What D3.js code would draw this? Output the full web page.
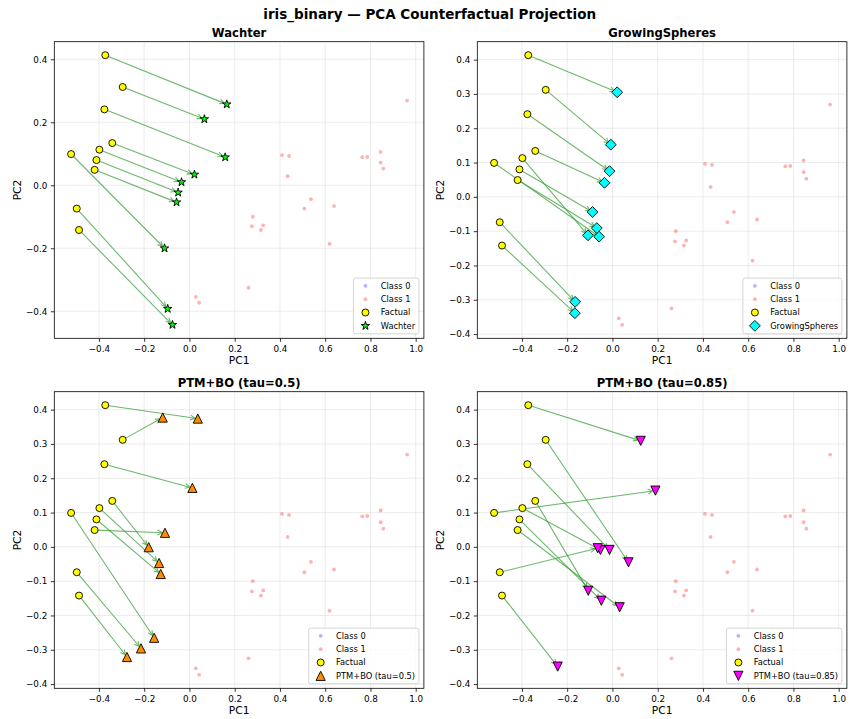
<!DOCTYPE html>
<html>
<head>
<meta charset="utf-8">
<script src="https://cdn.jsdelivr.net/npm/d3@7"></script>
<style>
  body { margin: 0; background: #fff; }
  svg { display: block; }
  text { font-family: "DejaVu Sans", sans-serif; fill: #000; }
</style>
</head>
<body>
<div id="chart"></div>
<script>
// factual points (class 0 instances), projected on PC1/PC2
var factualX = [-0.372, -0.295, -0.376, -0.341, -0.398, -0.411, -0.419, -0.523, -0.498, -0.488];
var factualY = [ 0.413,  0.312,  0.241,  0.134,  0.113,  0.080,  0.049,  0.099, -0.074, -0.142];

// class 0 background points sit under the factuals
var class0X = factualX;
var class0Y = factualY;

var class1X = [0.962, 0.409, 0.440, 0.434, 0.764, 0.786, 0.845, 0.845, 0.857, 0.537,
               0.508, 0.639, 0.280, 0.276, 0.326, 0.316, 0.619, 0.261, 0.028, 0.043];
var class1Y = [0.269, 0.096, 0.093, 0.029, 0.089, 0.090, 0.106, 0.072, 0.053, -0.044,
               -0.074, -0.066, -0.100, -0.130, -0.127, -0.142, -0.186, -0.325, -0.354, -0.373];

// counterfactuals, same order as the factuals
var wachterX = [0.165, 0.066, 0.158, 0.022, -0.035, -0.050, -0.057, -0.110, -0.096, -0.075];
var wachterY = [0.257, 0.210, 0.089, 0.034,  0.010, -0.023, -0.054, -0.200, -0.392, -0.443];

var gsX = [0.021, -0.007, -0.013, -0.035, -0.108, -0.088, -0.069, -0.059, -0.165, -0.166];
var gsY = [0.305,  0.152,  0.075,  0.041, -0.112, -0.044, -0.091, -0.116, -0.306, -0.339];

var ptm05X = [0.037, -0.118, 0.013, -0.180, -0.134, -0.127, -0.108, -0.156, -0.214, -0.276];
var ptm05Y = [0.374,  0.377, 0.172, -0.001, -0.047, -0.079,  0.041, -0.265, -0.296, -0.321];

var ptm085X = [0.125,  0.071, -0.013, -0.107, -0.053, -0.049,  0.032, 0.190, -0.065, -0.242];
var ptm085Y = [0.309, -0.045, -0.009, -0.128, -0.009, -0.157, -0.176, 0.164, -0.004, -0.349];

var xTicks = [-0.4, -0.2, 0.0, 0.2, 0.4, 0.6, 0.8, 1.0];
var yTicksCoarse = [-0.4, -0.2, 0.0, 0.2, 0.4];
var yTicksFine = [-0.4, -0.3, -0.2, -0.1, 0.0, 0.1, 0.2, 0.3, 0.4];

var panelTitles = ["Wachter", "GrowingSpheres", "PTM+BO (tau=0.5)", "PTM+BO (tau=0.85)"];

var W = 849, H = 719;
var axW = 369.6, axH = 296.6;

var panels = [
  {title: panelTitles[0], cfX: wachterX, cfY: wachterY, shape: "star", color: "#00ff00", yTicks: yTicksCoarse, left: 54.3, top: 41.7},
  {title: panelTitles[1], cfX: gsX, cfY: gsY, shape: "diamond", color: "#00ffff", yTicks: yTicksFine, left: 477.3, top: 41.7},
  {title: panelTitles[2], cfX: ptm05X, cfY: ptm05Y, shape: "triUp", color: "#ff8c00", yTicks: yTicksFine, left: 54.3, top: 391.7},
  {title: panelTitles[3], cfX: ptm085X, cfY: ptm085Y, shape: "triDown", color: "#ff00ff", yTicks: yTicksFine, left: 477.3, top: 391.7}
];

function shapePath(shape) {
  if (shape == "star") {
    var R = 4.4, r = R * 0.382, pts = [];
    for (var k = 0; k < 10; k++) {
      var a = -Math.PI / 2 + k * Math.PI / 5;
      var rr = (k % 2 == 0) ? R : r;
      pts.push([rr * Math.cos(a), rr * Math.sin(a)]);
    }
    return "M" + pts.map(function(p) { return p[0].toFixed(2) + "," + p[1].toFixed(2); }).join("L") + "Z";
  }
  if (shape == "diamond") { var h = 5.4; return "M0," + (-h) + "L" + h + ",0L0," + h + "L" + (-h) + ",0Z"; }
  if (shape == "triUp") { var t = 4.6; return "M0," + (-t) + "L" + t + "," + t + "L" + (-t) + "," + t + "Z"; }
  if (shape == "triDown") { var t2 = 4.6; return "M0," + t2 + "L" + t2 + "," + (-t2) + "L" + (-t2) + "," + (-t2) + "Z"; }
}

function padded(vals) {
  var lo = d3.min(vals), hi = d3.max(vals), m = (hi - lo) * 0.05;
  return [lo - m, hi + m];
}

var svg = d3.select("#chart").append("svg").attr("width", W).attr("height", H);

svg.append("text")
  .attr("x", 429.7).attr("y", 19.2)
  .attr("text-anchor", "middle")
  .style("font-size", "13.5px").style("font-weight", "bold")
  .text("iris_binary \u2014 PCA Counterfactual Projection");

panels.forEach(function(p) {
  var allX = class0X.concat(class1X, factualX, p.cfX);
  var allY = class0Y.concat(class1Y, factualY, p.cfY);
  var x = d3.scaleLinear().domain(padded(allX)).range([0, axW]);
  var y = d3.scaleLinear().domain(padded(allY)).range([axH, 0]);

  var g = svg.append("g").attr("transform", "translate(" + p.left + "," + p.top + ")");

  // grid
  g.selectAll(".gx").data(xTicks).enter().append("line")
    .attr("x1", function(d) { return x(d); }).attr("x2", function(d) { return x(d); })
    .attr("y1", 0).attr("y2", axH)
    .attr("stroke", "#b0b0b0").attr("stroke-opacity", 0.3).attr("stroke-width", 0.8);
  g.selectAll(".gy").data(p.yTicks).enter().append("line")
    .attr("y1", function(d) { return y(d); }).attr("y2", function(d) { return y(d); })
    .attr("x1", 0).attr("x2", axW)
    .attr("stroke", "#b0b0b0").attr("stroke-opacity", 0.3).attr("stroke-width", 0.8);

  // axes
  var xAxis = d3.axisBottom(x).tickValues(xTicks).tickSize(3.5).tickPadding(3.5)
    .tickFormat(function(d) { return d3.format(".1f")(d).replace("-", "\u2212"); });
  var yAxis = d3.axisLeft(y).tickValues(p.yTicks).tickSize(3.5).tickPadding(3.5)
    .tickFormat(function(d) { return d3.format(".1f")(d).replace("-", "\u2212"); });
  var gx = g.append("g").attr("transform", "translate(0," + axH + ")").call(xAxis);
  var gy = g.append("g").call(yAxis);
  [gx, gy].forEach(function(a) {
    a.select(".domain").remove();
    a.selectAll("line").attr("stroke", "#000").attr("stroke-width", 0.8);
    a.selectAll("text").style("font-size", "8.8px").attr("fill", "#111")
      .style("font-family", '"DejaVu Sans", sans-serif');
  });

  // class points
  g.selectAll(".c0").data(d3.range(class0X.length)).enter().append("circle")
    .attr("cx", function(i) { return x(class0X[i]); })
    .attr("cy", function(i) { return y(class0Y[i]); })
    .attr("r", 1.9).attr("fill", "blue").attr("fill-opacity", 0.3);
  g.selectAll(".c1").data(d3.range(class1X.length)).enter().append("circle")
    .attr("cx", function(i) { return x(class1X[i]); })
    .attr("cy", function(i) { return y(class1Y[i]); })
    .attr("r", 1.9).attr("fill", "red").attr("fill-opacity", 0.3);

  // arrows factual -> counterfactual
  g.selectAll(".arr").data(d3.range(factualX.length)).enter().append("path")
    .attr("d", function(i) {
      var x1 = x(factualX[i]), y1 = y(factualY[i]);
      var x2 = x(p.cfX[i]), y2 = y(p.cfY[i]);
      var dx = x2 - x1, dy = y2 - y1, len = Math.sqrt(dx * dx + dy * dy);
      var ux = dx / len, uy = dy / len, nx = -uy, ny = ux;
      var sx = x1 + ux * 2, sy = y1 + uy * 2;
      var tx = x2 - ux * 2.5, ty = y2 - uy * 2.5;
      var L = 5, Wd = 2.4;
      var bx = tx - ux * L, by = ty - uy * L;
      return "M" + sx + "," + sy + "L" + tx + "," + ty +
             "M" + (bx + nx * Wd) + "," + (by + ny * Wd) + "L" + tx + "," + ty +
             "L" + (bx - nx * Wd) + "," + (by - ny * Wd);
    })
    .attr("fill", "none").attr("stroke", "#2e9a2e").attr("stroke-opacity", 0.7)
    .attr("stroke-width", 1.1);

  // factual markers
  g.selectAll(".fac").data(d3.range(factualX.length)).enter().append("circle")
    .attr("cx", function(i) { return x(factualX[i]); })
    .attr("cy", function(i) { return y(factualY[i]); })
    .attr("r", 3.5).attr("fill", "#ffff00").attr("stroke", "#000").attr("stroke-width", 0.9);

  // counterfactual markers
  var sp = shapePath(p.shape);
  g.selectAll(".cf").data(d3.range(p.cfX.length)).enter().append("path")
    .attr("d", sp)
    .attr("transform", function(i) { return "translate(" + x(p.cfX[i]) + "," + y(p.cfY[i]) + ")"; })
    .attr("fill", p.color).attr("stroke", "#000").attr("stroke-width", 0.9);

  // frame
  g.append("rect").attr("width", axW).attr("height", axH)
    .attr("fill", "none").attr("stroke", "#000").attr("stroke-width", 0.8);

  // titles and labels
  g.append("text").attr("x", axW / 2).attr("y", -4.3)
    .attr("text-anchor", "middle")
    .style("font-size", "11.6px").style("font-weight", "bold")
    .text(p.title);
  g.append("text").attr("x", axW / 2).attr("y", axH + 26.2)
    .attr("text-anchor", "middle").style("font-size", "10.7px").text("PC1");
  g.append("text")
    .attr("transform", "translate(-33.2," + (axH / 2) + ") rotate(-90)")
    .attr("text-anchor", "middle").style("font-size", "10.7px").text("PC2");

  // legend
  var items = [
    {label: "Class 0", kind: "c0"},
    {label: "Class 1", kind: "c1"},
    {label: "Factual", kind: "fac"},
    {label: p.title, kind: "cf"}
  ];
  var lg = g.append("g");
  var box = lg.append("rect");
  var maxW = 0;
  lg.selectAll(".lt").data(items).enter().append("text")
    .attr("x", 27.3).attr("y", function(d, i) { return 7.7 + i * 13.35 + 3; })
    .style("font-size", "8.3px").text(function(d) { return d.label; })
    .each(function() { maxW = Math.max(maxW, this.getComputedTextLength()); });
  var bw = 27.3 + maxW + 3.8, bh = 55.7;
  box.attr("width", bw).attr("height", bh).attr("rx", 2)
    .attr("fill", "#fff").attr("fill-opacity", 0.8)
    .attr("stroke", "#cccccc").attr("stroke-width", 0.8);
  items.forEach(function(d, i) {
    var cy = 7.7 + i * 13.35, cx = 12;
    if (d.kind == "c0" || d.kind == "c1") {
      lg.append("circle").attr("cx", cx).attr("cy", cy).attr("r", 1.9)
        .attr("fill", d.kind == "c0" ? "blue" : "red").attr("fill-opacity", 0.3);
    } else if (d.kind == "fac") {
      lg.append("circle").attr("cx", cx).attr("cy", cy).attr("r", 3.5)
        .attr("fill", "#ffff00").attr("stroke", "#000").attr("stroke-width", 0.9);
    } else {
      lg.append("path").attr("d", sp).attr("transform", "translate(" + cx + "," + cy + ")")
        .attr("fill", p.color).attr("stroke", "#000").attr("stroke-width", 0.9);
    }
  });
  lg.attr("transform", "translate(" + (axW - 5 - bw) + "," + (axH - 4.5 - bh) + ")");
});
</script>
</body>
</html>
